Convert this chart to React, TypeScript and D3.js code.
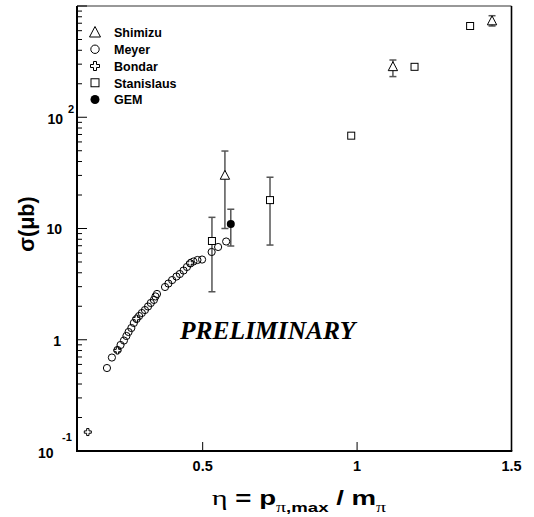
import React from "react";
import * as d3 from "d3";

// ---- data ----
const meyerEta = [0.190, 0.206, 0.224, 0.234, 0.245, 0.253, 0.260, 0.269, 0.277, 0.286, 0.294, 0.303, 0.313, 0.323, 0.332, 0.342, 0.347, 0.352, 0.378, 0.389, 0.401, 0.415, 0.426, 0.438, 0.449, 0.460, 0.470, 0.483, 0.498, 0.529, 0.550, 0.576];
const meyerSigma = [0.557, 0.692, 0.809, 0.897, 0.984, 1.081, 1.174, 1.275, 1.415, 1.537, 1.634, 1.739, 1.85, 1.99, 2.14, 2.28, 2.45, 2.58, 2.98, 3.20, 3.44, 3.70, 3.90, 4.19, 4.51, 4.85, 5.05, 5.21, 5.26, 6.15, 6.82, 7.64];

const bondarEta = [0.128, 0.224, 0.285, 0.459];
const bondarSigma = [0.148, 0.80, 1.55, 4.9];

const shimizuEta = [0.572, 1.116, 1.437];
const shimizuSigma = [30, 284, 733];
const shimizuLo = [10, 232, 661];
const shimizuHi = [49.7, 327, 818];

const stanEta = [0.530, 0.718, 0.981, 1.186, 1.366];
const stanSigma = [7.72, 18.0, 68.3, 284, 661];
const stanLo = [2.70, 7.1, 68.3, 284, 661];
const stanHi = [12.6, 28.9, 68.3, 284, 661];

const gemEta = [0.591];
const gemSigma = [10.97];
const gemLo = [6.96];
const gemHi = [14.9];

const xTicks = [0.5, 1, 1.5];
const xTickLabels = ["0.5", "1", "1.5"];
const legendLabels = ["Shimizu", "Meyer", "Bondar", "Stanislaus", "GEM"];

const W = 534, H = 517;
const L = 77, R = 511.5, T = 6, B = 451;

const x = d3.scaleLinear().domain([0.093, 1.5]).range([L, R]);
const y = d3.scaleLog().domain([0.1, 1000]).range([B, T]);

const triPath = (s: number) => `M0,${-s * 0.6}L${s * 0.55},${s * 0.45}L${-s * 0.55},${s * 0.45}Z`;
const crossPath = (s: number) => {
  const h = s / 2, a = s / 6;
  return `M${-a},${-h}L${a},${-h}L${a},${-a}L${h},${-a}L${h},${a}L${a},${a}L${a},${h}L${-a},${h}L${-a},${a}L${-h},${a}L${-h},${-a}L${-a},${-a}Z`;
};

function Marker({ kind, cx, cy, s = 8 }: { kind: string; cx: number; cy: number; s?: number }) {
  const st = { stroke: "#000", strokeWidth: 1 };
  if (kind === "tri") return <path d={triPath(s + 1)} transform={`translate(${cx},${cy})`} fill="#fff" {...st} />;
  if (kind === "circ") return <circle cx={cx} cy={cy} r={s / 2 - 0.3} fill="none" {...st} />;
  if (kind === "cross") return <path d={crossPath(s)} transform={`translate(${cx},${cy})`} fill="#fff" {...st} />;
  if (kind === "sq") return <rect x={cx - s / 2 + 0.5} y={cy - s / 2 + 0.5} width={s - 1} height={s - 1} fill="#fff" {...st} />;
  return <circle cx={cx} cy={cy} r={s / 2} fill="#000" />;
}

function ErrBar({ ex, lo, hi }: { ex: number; lo: number; hi: number }) {
  if (Math.abs(hi - lo) < 1e-9) return null;
  const px = x(ex), y1 = y(lo), y2 = y(hi);
  const c = 3.5;
  return (
    <g stroke="#555" strokeWidth={1.5}>
      <line x1={px} x2={px} y1={y1} y2={y2} />
      <line x1={px - c} x2={px + c} y1={y1} y2={y1} />
      <line x1={px - c} x2={px + c} y1={y2} y2={y2} />
    </g>
  );
}

export default function App() {
  const minor: number[] = [];
  for (let e = -1; e < 3; e++) for (let m = 2; m <= 9; m++) minor.push(m * Math.pow(10, e));
  const major = [0.1, 1, 10, 100, 1000];
  const font = "'Liberation Sans', Arial, sans-serif";
  const serif = "'Liberation Serif', 'Times New Roman', serif";
  return (
    <svg width={W} height={H} style={{ position: "absolute", left: 0, top: 0, background: "#fff" }} fontFamily={font}>
      <rect x={0} y={0} width={W} height={H} fill="#fff" />
      {/* frame */}
      <line x1={L} x2={R} y1={T} y2={T} stroke="#333" strokeWidth={1.2} />
      <line x1={R} x2={R} y1={T} y2={B} stroke="#000" strokeWidth={1.6} />
      <line x1={L} x2={L} y1={T} y2={B + 1} stroke="#000" strokeWidth={2} />
      <line x1={L} x2={R + 0.8} y1={B} y2={B} stroke="#000" strokeWidth={2} />
      {/* y ticks */}
      {major.map((v, i) => (
        <line key={"M" + i} x1={L} x2={L + 10} y1={y(v)} y2={y(v)} stroke="#000" strokeWidth={1} />
      ))}
      {minor.map((v, i) => (
        <line key={"m" + i} x1={L} x2={L + 5} y1={y(v)} y2={y(v)} stroke="#000" strokeWidth={1} />
      ))}
      {/* x ticks */}
      {xTicks.slice(0, 2).map((v, i) => (
        <line key={"xt" + i} x1={x(v)} x2={x(v)} y1={B} y2={B - 9} stroke="#000" strokeWidth={1} />
      ))}
      {xTicks.map((v, i) => (
        <text key={"xl" + i} x={x(v)} y={470.5} fontSize={14.5} fontWeight="bold" textAnchor="middle">{xTickLabels[i]}</text>
      ))}
      {/* y tick labels */}
      <text x={63} y={y(100) + 7} fontSize={14} fontWeight="bold" textAnchor="end">10</text>
      <text x={68} y={y(100) - 4} fontSize={11} fontWeight="bold">2</text>
      <text x={62} y={y(10) + 5.5} fontSize={14} fontWeight="bold" textAnchor="end">10</text>
      <text x={61} y={y(1) + 6} fontSize={14} fontWeight="bold" textAnchor="end">1</text>
      <text x={53.5} y={457.5} fontSize={14} fontWeight="bold" textAnchor="end">10</text>
      <text x={62} y={441} fontSize={11} fontWeight="bold">-1</text>
      {/* axis titles */}
      <g transform="translate(299,505) scale(1.38,1)">
        <text x={0} y={0} fontSize={20} fontWeight="bold" textAnchor="middle">
          <tspan fontFamily={serif} fontWeight="normal" fontSize={22}>η</tspan>
          <tspan> = p</tspan>
          <tspan fontSize={13.5} dy={6.5}><tspan fontFamily={serif} fontWeight="normal" fontSize={14.5}>π</tspan>,max</tspan>
          <tspan dy={-6.5}> / m</tspan>
          <tspan fontSize={14.5} dy={6.5} fontFamily={serif} fontWeight="normal">π</tspan>
        </text>
      </g>
      <text transform="translate(34,224) rotate(-90)" fontSize={21.5} fontWeight="bold" textAnchor="middle">σ(μb)</text>
      {/* PRELIMINARY */}
      <text x={180} y={339} fontSize={25.5} fontWeight="bold" fontStyle="italic" fontFamily={serif}>PRELIMINARY</text>
      {/* error bars */}
      {shimizuEta.map((e, i) => <ErrBar key={"se" + i} ex={e} lo={shimizuLo[i]} hi={shimizuHi[i]} />)}
      {stanEta.map((e, i) => <ErrBar key={"te" + i} ex={e} lo={stanLo[i]} hi={stanHi[i]} />)}
      {gemEta.map((e, i) => <ErrBar key={"ge" + i} ex={e} lo={gemLo[i]} hi={gemHi[i]} />)}
      {/* markers */}
      {meyerEta.map((e, i) => <Marker key={"me" + i} kind="circ" cx={x(e)} cy={y(meyerSigma[i])} s={7.8} />)}
      {bondarEta.map((e, i) => <Marker key={"bo" + i} kind="cross" cx={x(e)} cy={y(bondarSigma[i])} s={7} />)}
      {stanEta.map((e, i) => <Marker key={"st" + i} kind="sq" cx={x(e)} cy={y(stanSigma[i])} s={8} />)}
      {shimizuEta.map((e, i) => <Marker key={"sh" + i} kind="tri" cx={x(e)} cy={y(shimizuSigma[i])} s={7.5} />)}
      {gemEta.map((e, i) => <Marker key={"gm" + i} kind="dot" cx={x(e)} cy={y(gemSigma[i])} s={8} />)}
      {/* legend */}
      {legendLabels.map((lab, i) => {
        const by = 37.3 + i * 16.75;
        const kinds = ["tri", "circ", "cross", "sq", "dot"];
        return (
          <g key={"lg" + i}>
            <Marker kind={kinds[i]} cx={95} cy={by - 4.8} s={9} />
            <text x={114} y={by} fontSize={12.5} fontWeight="bold">{lab}</text>
          </g>
        );
      })}
    </svg>
  );
}
